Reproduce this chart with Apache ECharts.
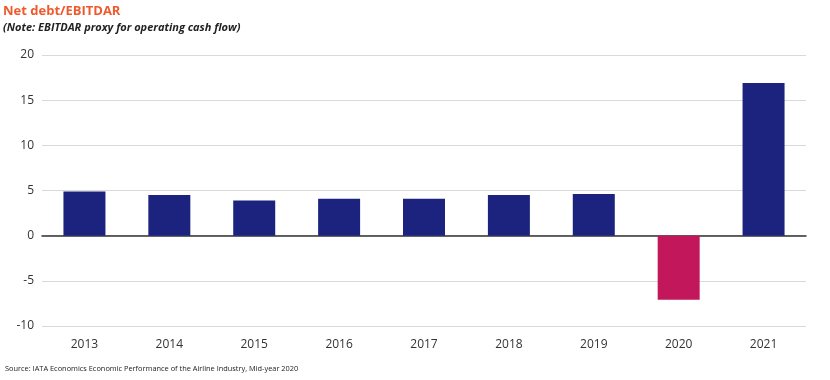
<!DOCTYPE html>
<html><head><meta charset="utf-8">
<script src="https://cdn.jsdelivr.net/npm/echarts@6/dist/echarts.min.js"></script>
<style>html,body{margin:0;padding:0;background:#fff}#c{width:830px;height:380px}</style>
</head><body><div id="c"></div>
<script>
const categories = ['2013','2014','2015','2016','2017','2018','2019','2020','2021'];
const values = [4.9, 4.5, 3.9, 4.1, 4.1, 4.5, 4.6, -7.1, 16.9];
const yTicks = [-10, -5, 0, 5, 10, 15, 20];
const POS = '#1b237e', NEG = '#c2185b';
const chart = echarts.init(document.getElementById('c'), null, {renderer:'canvas'});
chart.setOption({
  animation:false,
  backgroundColor:'#fff',
  title:[
    {text:'Net debt/EBITDAR', left:3, top:5, padding:0, textStyle:{fontFamily:'Open Sans', fontSize:13, fontWeight:'bold', color:'#ee5a2b'}},
    {text:'(Note: EBITDAR proxy for operating cash flow)', left:3, top:22, padding:0, textStyle:{fontFamily:'Open Sans', fontSize:11, fontWeight:'bold', fontStyle:'italic', color:'#222'}},
    {text:'Source: IATA Economics Economic Performance of the Airline Industry, Mid-year 2020', left:5, top:365, padding:0, textStyle:{fontFamily:'Open Sans', fontSize:7.4, fontWeight:'normal', color:'#222'}}
  ],
  grid:{left:42, right:24, top:55, bottom:54},
  xAxis:{type:'category', data:categories,
    axisLine:{show:true, onZero:true, lineStyle:{color:'#333', width:1.5}},
    axisTick:{show:false},
    axisLabel:{fontFamily:'Open Sans', fontSize:12, color:'#333', margin:13}
  },
  yAxis:{type:'value', min:yTicks[0], max:yTicks[yTicks.length-1], interval:5,
    axisLine:{show:false}, axisTick:{show:false},
    splitLine:{lineStyle:{color:'#d9d9d9', width:1}},
    axisLabel:{fontFamily:'Open Sans', fontSize:12, color:'#333', margin:8}
  },
  series:[{type:'bar', barWidth:42,
    data:values.map(v=>({value:v, itemStyle:{color: v<0?NEG:POS}}))
  }]
});
</script></body></html>
